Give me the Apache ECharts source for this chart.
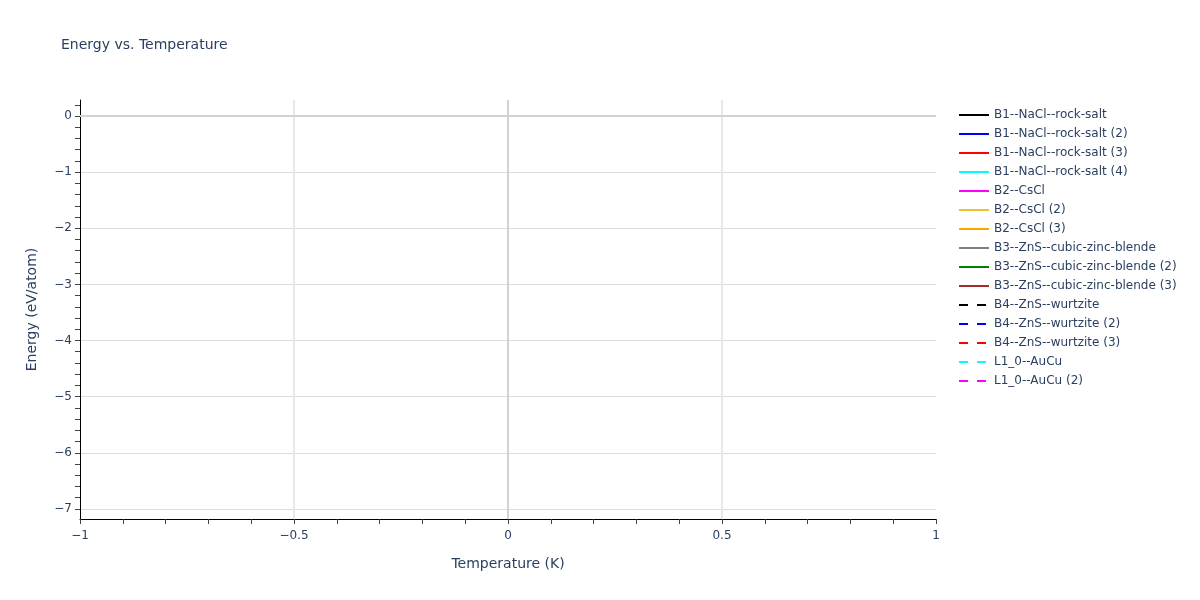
<!DOCTYPE html>
<html>
<head>
<meta charset="utf-8">
<script src="https://cdn.jsdelivr.net/npm/echarts@6/dist/echarts.min.js"></script>
<style>html,body{margin:0;padding:0;background:#fff}#c{width:1200px;height:600px}</style>
</head>
<body>
<div id="c"></div>
<script>
// Series names (legend order) and styles
const seriesNames = [
  'B1--NaCl--rock-salt', 'B1--NaCl--rock-salt (2)', 'B1--NaCl--rock-salt (3)', 'B1--NaCl--rock-salt (4)',
  'B2--CsCl', 'B2--CsCl (2)', 'B2--CsCl (3)',
  'B3--ZnS--cubic-zinc-blende', 'B3--ZnS--cubic-zinc-blende (2)', 'B3--ZnS--cubic-zinc-blende (3)',
  'B4--ZnS--wurtzite', 'B4--ZnS--wurtzite (2)', 'B4--ZnS--wurtzite (3)',
  'L1_0--AuCu', 'L1_0--AuCu (2)'
];
const seriesColors = [
  '#000000', '#0000ff', '#ff0000', '#00ffff', '#ff00ff', '#ecc22f', '#ffa500',
  '#808080', '#008000', '#a52a2a', '#000000', '#0000ff', '#ff0000', '#00ffff', '#ff00ff'
];
const seriesDashed = [false, false, false, false, false, false, false, false, false, false, true, true, true, true, true];
// Series values: no visible points in the reference (each series is empty)
const seriesData = seriesNames.map(() => []);

// Axis ranges and tick labels
const xMin = -1, xMax = 1, xInterval = 0.5;
const yMin = -7.18, yMax = 0.285;
const yMajorTicks = [0, -1, -2, -3, -4, -5, -6, -7];
const yMinorTicks = [];
for (let v = -7.0; v <= 0.21; v += 0.2) yMinorTicks.push(Math.round(v * 10) / 10);

const textColor = '#2a3f5f';
const font = '"DejaVu Sans", Verdana, sans-serif';
const fmt = v => String(Math.round(v * 1000) / 1000).replace('-', '\u2212');

const series = seriesNames.map((name, i) => ({
  name: name,
  type: 'line',
  data: seriesData[i],
  xAxisIndex: 0,
  yAxisIndex: 0,
  symbol: 'none',
  showSymbol: false,
  lineStyle: { color: seriesColors[i], width: 2, type: seriesDashed[i] ? [9, 9] : 'solid' },
  itemStyle: { color: seriesColors[i] }
}));
// zero lines
series.push({
  name: '_zero',
  type: 'line',
  data: [],
  xAxisIndex: 0,
  yAxisIndex: 0,
  symbol: 'none',
  silent: true,
  z: 1,
  markLine: {
    silent: true,
    symbol: 'none',
    animation: false,
    label: { show: false },
    lineStyle: { color: '#d2d2d2', width: 2, type: 'solid' },
    data: [{ yAxis: 0 }, { xAxis: 0 }]
  }
});

const chart = echarts.init(document.getElementById('c'), null, { renderer: 'canvas' });
chart.setOption({
  animation: false,
  backgroundColor: '#ffffff',
  textStyle: { fontFamily: font },
  title: {
    text: 'Energy vs. Temperature',
    left: 61, top: 38, padding: 0,
    textStyle: { fontFamily: font, fontSize: 14, fontWeight: 'normal', color: textColor }
  },
  legend: {
    data: seriesNames,
    orient: 'vertical',
    left: 958, top: 109,
    padding: 0,
    itemWidth: 30, itemHeight: 12, itemGap: 7,
    itemStyle: { opacity: 0 },
    textStyle: { fontFamily: font, fontSize: 12, color: textColor, lineHeight: 12 }
  },
  grid: { left: 80, right: 264, top: 100, bottom: 81, containLabel: false },
  xAxis: [{
    type: 'value',
    min: xMin, max: xMax, interval: xInterval,
    name: 'Temperature (K)',
    nameLocation: 'middle', nameGap: 38,
    nameTextStyle: { fontFamily: font, fontSize: 14, color: textColor },
    axisLine: { show: true, onZero: false, lineStyle: { color: '#000000', width: 1 } },
    axisTick: { show: true, length: 5, lineStyle: { color: '#444444' } },
    minorTick: { show: true, splitNumber: 5, length: 5, lineStyle: { color: '#444444' } },
    axisLabel: { margin: 11, fontFamily: font, fontSize: 12, color: textColor, formatter: fmt },
    splitLine: { show: true, showMinLine: false, showMaxLine: false, lineStyle: { color: '#e8e8e8', width: 2 } },
    minorSplitLine: { show: false }
  }],
  yAxis: [{
    type: 'value',
    min: yMin, max: yMax,
    name: 'Energy (eV/atom)',
    nameLocation: 'middle', nameGap: 41,
    nameTextStyle: { fontFamily: font, fontSize: 14, color: textColor },
    axisLine: { show: true, onZero: false, lineStyle: { color: '#000000', width: 1 } },
    axisTick: { show: false, customValues: yMajorTicks },
    axisLabel: { margin: 8, fontFamily: font, fontSize: 12, color: textColor, customValues: yMajorTicks, formatter: fmt },
    splitLine: { show: true, lineStyle: { color: '#dcdcdc', width: 1 } }
  }, {
    type: 'value',
    position: 'left',
    min: yMin, max: yMax,
    axisLine: { show: false, onZero: false },
    axisTick: { show: true, length: 5, lineStyle: { color: '#444444' }, customValues: yMinorTicks },
    axisLabel: { show: false },
    splitLine: { show: false }
  }],
  series: series
});
</script>
</body>
</html>
